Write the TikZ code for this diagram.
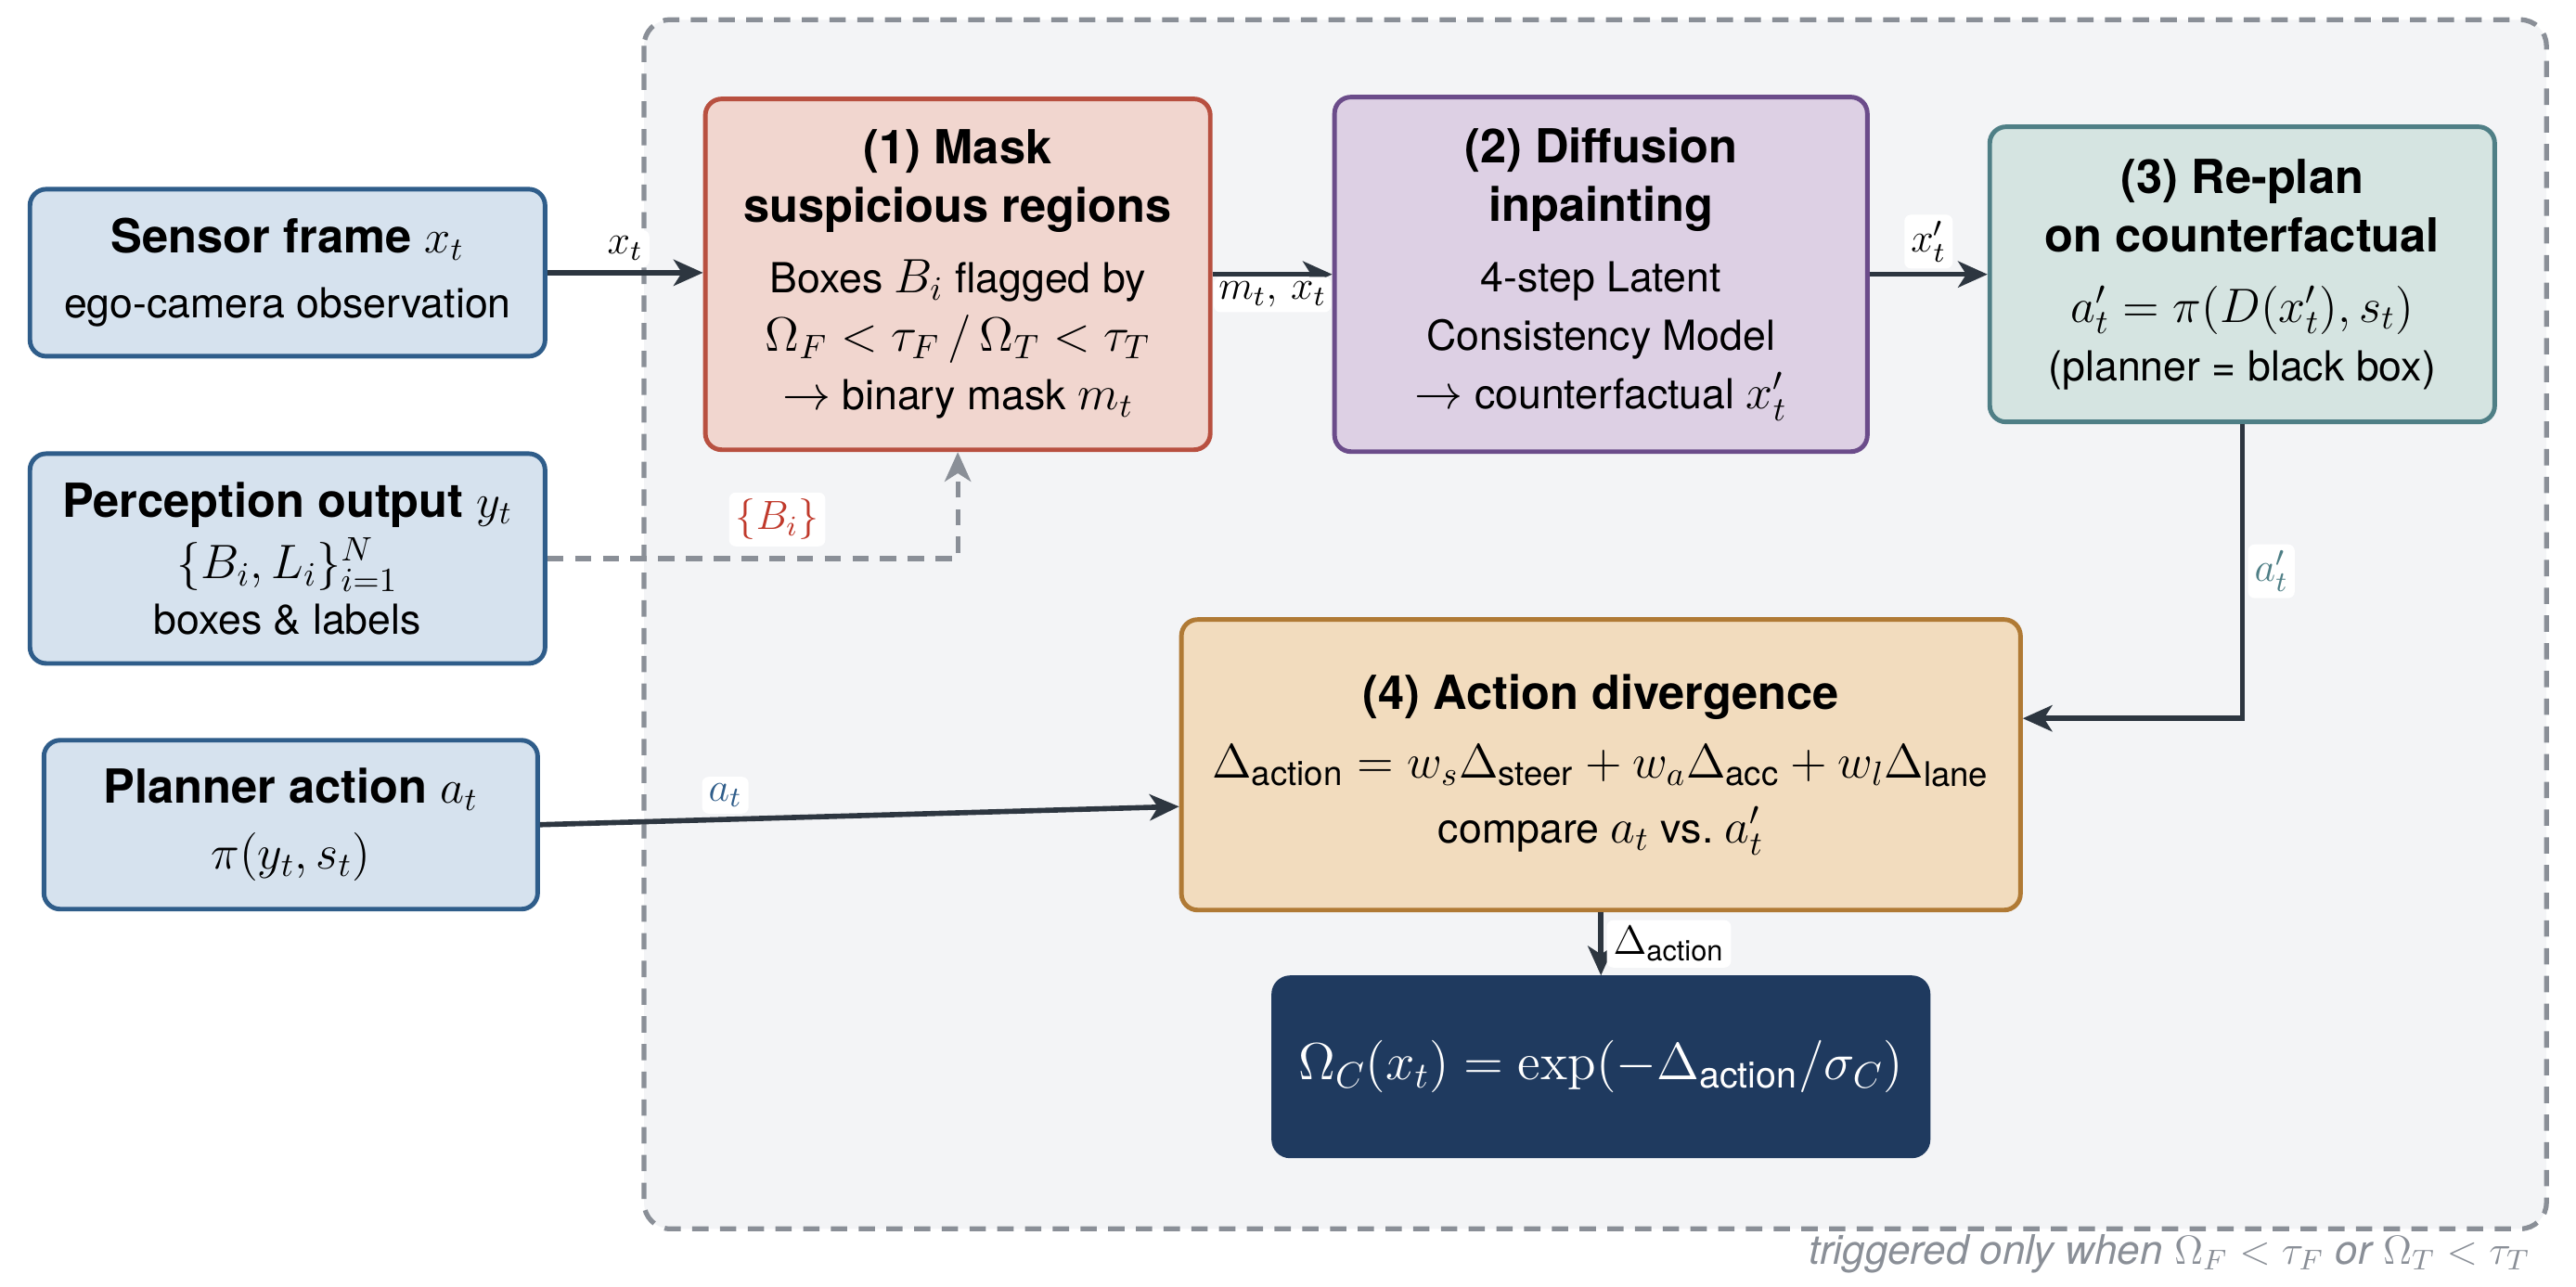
\RequirePackage{fix-cm}
\documentclass[tikz,border=0pt]{standalone}
\usepackage{amsmath}
\usepackage[no-math]{fontspec}
\setmainfont{TeX Gyre Heros}
\usetikzlibrary{arrows.meta, positioning}

\definecolor{inblue}{HTML}{D6E2EE}
\definecolor{indraw}{HTML}{2F5D8A}
\definecolor{maskfill}{HTML}{F1D6CF}
\definecolor{maskdraw}{HTML}{B85040}
\definecolor{difffill}{HTML}{DDD0E4}
\definecolor{diffdraw}{HTML}{6B4C8A}
\definecolor{planfill}{HTML}{D5E4E1}
\definecolor{plandraw}{HTML}{4F7F86}
\definecolor{divfill}{HTML}{F2DCBE}
\definecolor{divdraw}{HTML}{B07A35}
\definecolor{scorefill}{HTML}{1F3A5F}
\definecolor{flow}{HTML}{2D3640}
\definecolor{hint}{HTML}{8A8F97}
\definecolor{zone}{HTML}{F3F4F6}
\definecolor{bred}{HTML}{C0392B}

\DeclareMathSizes{12.7}{14.8}{10.4}{7.4}
\newcommand{\hdr}[1]{{\fontsize{14.4}{18}\selectfont\bfseries #1}}

\begin{document}
\begin{tikzpicture}[
    x=0.017704cm, y=-0.017704cm,
    card/.style={rectangle, rounded corners=5pt, line width=1.4pt, align=center, font=\fontsize{12.7}{18}\selectfont},
    inbox/.style={card, draw=indraw, fill=inblue, minimum width=5.55cm, minimum height=1.80cm},
    maskbox/.style={card, draw=maskdraw, fill=maskfill, minimum width=5.44cm, minimum height=3.78cm},
    diffbox/.style={card, draw=diffdraw, fill=difffill, minimum width=5.74cm, minimum height=3.82cm},
    planbox/.style={card, draw=plandraw, fill=planfill, minimum width=5.44cm, minimum height=3.18cm},
    divbox/.style={card, draw=divdraw, fill=divfill, minimum width=9.04cm, minimum height=3.13cm},
    scorebox/.style={card, draw=scorefill, fill=scorefill, text=white, minimum width=7.05cm, minimum height=1.92cm, font=\fontsize{16}{18}\selectfont},
    flowline/.style={draw=flow, line width=1.6pt, -{Stealth[length=9pt, width=8pt, inset=2.5pt]}},
    hintline/.style={draw=hint, line width=1.5pt, dash pattern=on 5pt off 3.5pt, -{Stealth[length=9pt, width=8pt, inset=2.5pt]}},
    lbl/.style={fill=white, rounded corners=2pt, inner sep=2pt, font=\fontsize{12.5}{14}\selectfont}
 ]

\useasboundingbox (0,0) rectangle (1568,783);
\draw[draw=hint, fill=zone, line width=1.5pt, dash pattern=on 5pt off 3.5pt, rounded corners=8pt] (392,12) rectangle (1550,748);
\node[anchor=east, text=hint, font=\itshape\fontsize{12.5}{14}\selectfont] (note) at (1547,763) {triggered only when $\Omega_F < \tau_F$ or $\Omega_T < \tau_T$};

\node[inbox] (sensor) at (175,166) {\hdr{Sensor frame $x_t$}\\[2pt] ego-camera observation};
\node[inbox, minimum height=2.26cm] (percep) at (175,340) {\hdr{Perception output $y_t$}\\[1pt] $\{B_i, L_i\}_{i=1}^{N}$\\[-1pt] boxes \& labels};
\node[inbox, minimum width=5.32cm, minimum height=1.82cm] (planner) at (177,502) {\hdr{Planner action $a_t$}\\[2pt] $\pi(y_t, s_t)$};

\node[maskbox] (mask) at (583,167) {\hdr{(1) Mask}\\ \hdr{suspicious regions}\\[3.5pt] Boxes $B_i$ flagged by\\ $\Omega_F < \tau_F\,/\,\Omega_T < \tau_T$\\ $\rightarrow$ binary mask $m_t$};
\node[diffbox, right=1.29cm of mask] (diff) {\hdr{(2) Diffusion}\\ \hdr{inpainting}\\[3.5pt] 4-step Latent\\ Consistency Model\\ $\rightarrow$ counterfactual $x'_t$};
\node[planbox, right=1.27cm of diff] (replan) {\hdr{(3) Re-plan}\\ \hdr{on counterfactual}\\[3.5pt] $a'_t = \pi(D(x'_t), s_t)$\\ (planner = black box)};
\node[divbox, below=1.76cm of diff] (diverge) {\hdr{(4) Action divergence}\\[3pt] $\Delta_{\text{action}} = w_s\Delta_{\text{steer}} + w_a\Delta_{\text{acc}} + w_l\Delta_{\text{lane}}$\\[2pt] compare $a_t$ vs.\ $a'_t$};
\node[scorebox, below=0.68cm of diverge] (score) {$\Omega_C(x_t) = \exp(-\Delta_{\text{action}}/\sigma_C)$};

\draw[flowline] (sensor.east) -- node[lbl, above=1pt] {$x_t$} (sensor.east -| mask.west);
\draw[flowline] (mask) -- node[lbl, below=0pt, inner sep=1.5pt] {$m_t,\,x_t$} (diff);
\draw[flowline] (diff) -- node[lbl, above=1pt] {$x'_t$} (replan);
\draw[flowline] (replan.south) |- node[lbl, pos=0.25, right=1pt, text=plandraw] {$a'_t$} ([yshift=0.5cm]diverge.east);
\draw[flowline] (planner.east) -- node[lbl, pos=0.29, above=1pt, text=indraw] {$a_t$} ([yshift=-0.45cm]diverge.west);
\draw[flowline] (diverge) -- node[lbl, right=1pt] {$\Delta_{\text{action}}$} (score);
\draw[hintline] (percep.east) -| node[lbl, pos=0.28, above=3pt, text=bred] {$\{B_i\}$} (mask.south);

\end{tikzpicture}
\end{document}
